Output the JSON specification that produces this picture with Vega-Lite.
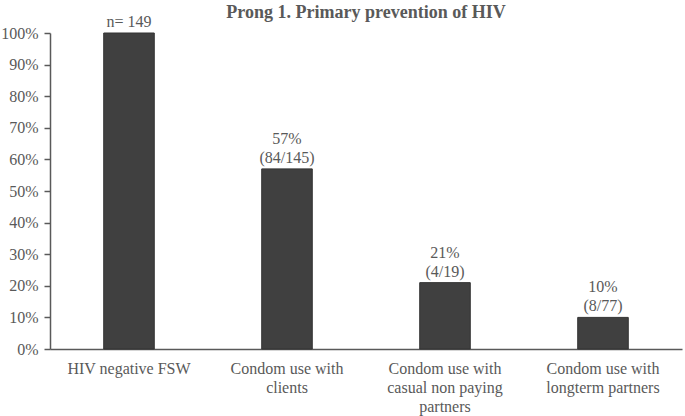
{
  "$schema": "https://vega.github.io/schema/vega-lite/v6.json",
  "autosize": {"type": "none"},
  "padding": {"left": 50, "top": 33, "right": 3, "bottom": 67},
  "width": 632,
  "height": 316,
  "background": "white",
  "title": {"text": "Prong 1. Primary prevention of HIV", "font": "Liberation Serif", "fontSize": 18, "fontWeight": "bold", "color": "#595959", "anchor": "middle", "offset": 0, "dy": 27},
  "data": {"values": [
    {"category": "HIV negative FSW", "value": 100, "line1": "", "line2": "n= 149"},
    {"category": "Condom use with|clients", "value": 57, "line1": "57%", "line2": "(84/145)"},
    {"category": "Condom use with|casual non paying|partners", "value": 21, "line1": "21%", "line2": "(4/19)"},
    {"category": "Condom use with|longterm partners", "value": 10, "line1": "10%", "line2": "(8/77)"}
  ]},
  "encoding": {
    "x": {"field": "category", "type": "nominal", "sort": null, "scale": {"paddingInner": 0, "paddingOuter": 0},
      "axis": {"title": null, "labelAngle": 0, "ticks": false, "labelExpr": "split(datum.value, '|')", "labelFont": "Liberation Serif", "labelFontSize": 16, "labelColor": "#595959", "labelPadding": 11, "labelLineHeight": 19, "domainColor": "#595959", "domainWidth": 1.5}},
    "y": {"field": "value", "type": "quantitative", "scale": {"domain": [0, 100]},
      "axis": {"title": null, "values": [0,10,20,30,40,50,60,70,80,90,100], "labelExpr": "datum.value + '%'", "grid": false, "labelFont": "Liberation Serif", "labelFontSize": 16, "labelColor": "#595959", "tickSize": 6, "labelPadding": 6, "tickColor": "#595959", "domainColor": "#595959", "domainWidth": 1.5, "tickWidth": 1.5}}
  },
  "layer": [
    {"mark": {"type": "bar", "width": {"band": 0.32}, "color": "#404040", "stroke": "#333333", "strokeWidth": 1}},
    {"mark": {"type": "text", "baseline": "alphabetic", "dy": -25, "font": "Liberation Serif", "fontSize": 16, "color": "#595959"},
      "encoding": {"text": {"field": "line1"}}},
    {"mark": {"type": "text", "baseline": "alphabetic", "dy": -6, "font": "Liberation Serif", "fontSize": 16, "color": "#595959"},
      "encoding": {"text": {"field": "line2"}}}
  ],
  "config": {"view": {"stroke": null}}
}
